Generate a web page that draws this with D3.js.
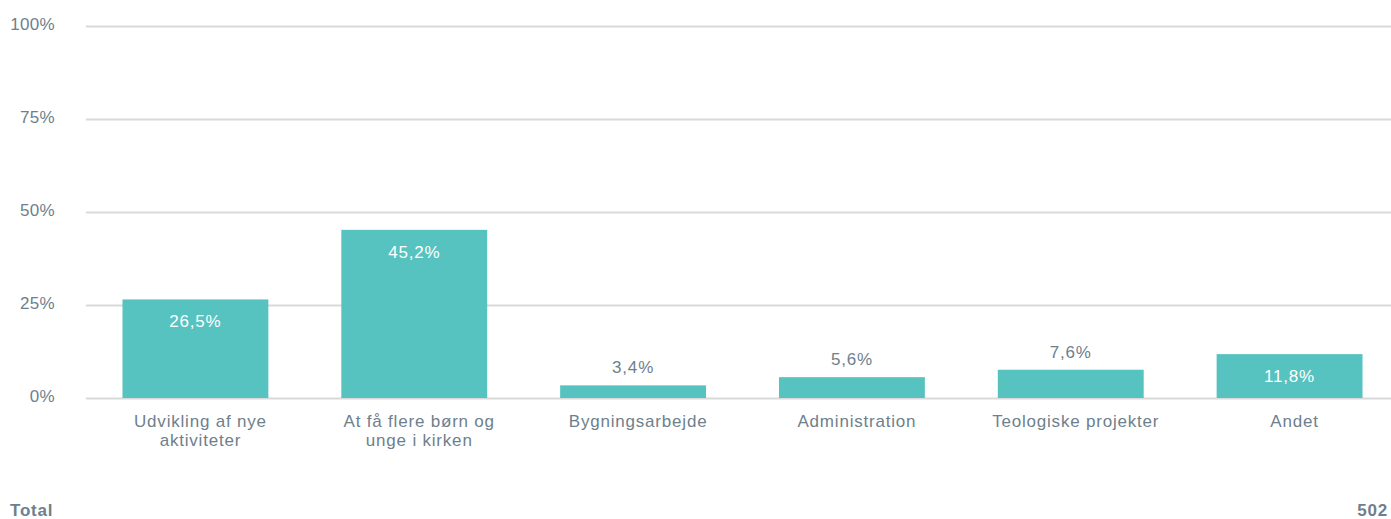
<!DOCTYPE html>
<html>
<head>
<meta charset="utf-8">
<script src="https://cdn.jsdelivr.net/npm/d3@7"></script>
<style>
    body { margin: 0; background: #fff; }
    svg { display: block; font-family: "Liberation Sans", Arial, sans-serif; }
</style>
</head>
<body>
<div id="chart"></div>
<script>
const categories = [
    ["Udvikling af nye", "aktiviteter"],
    ["At få flere børn og", "unge i kirken"],
    ["Bygningsarbejde"],
    ["Administration"],
    ["Teologiske projekter"],
    ["Andet"]
];
const values = [26.5, 45.2, 3.4, 5.6, 7.6, 11.8];
const yTicks = [0, 25, 50, 75, 100];
const totalLabel = "Total";
const totalN = "502";

const width = 1391, height = 519;
const textColor = "#6e808c";
const barColor = "#57c3c0";

const svg = d3.select("#chart").append("svg")
    .attr("width", width)
    .attr("height", height);

const x = d3.scaleBand()
    .domain(d3.range(categories.length))
    .range([86, 1399])
    .paddingInner(1 / 3)
    .paddingOuter(1 / 6);

const y = d3.scaleLinear()
    .domain([0, 100])
    .range([398, 26]);

// gridlines + y labels
const yAxis = svg.append("g")
    .attr("transform", "translate(86,0)")
    .call(d3.axisLeft(y).tickValues(yTicks).tickSize(-(width - 86)).tickFormat(d => d + "%"));
yAxis.select(".domain").remove();
yAxis.selectAll(".tick line").attr("stroke", "#d9d9d9").attr("stroke-width", 2);
yAxis.selectAll(".tick text")
    .attr("x", -31)
    .attr("dy", "0.2em")
    .attr("fill", textColor)
    .style("font-size", "17px")
    .style("letter-spacing", "0.3px")
    .style("font-family", "'Liberation Sans', Arial, sans-serif");

// bars
svg.append("g").selectAll("rect")
    .data(values)
    .join("rect")
    .attr("x", (d, i) => x(i))
    .attr("width", x.bandwidth())
    .attr("y", d => y(d))
    .attr("height", d => y(0) - y(d))
    .attr("fill", barColor);

// value labels
svg.append("g").selectAll("text")
    .data(values)
    .join("text")
    .attr("x", (d, i) => x(i) + x.bandwidth() / 2)
    .attr("y", d => d >= 10 ? y(d) + 28 : y(d) - 12)
    .attr("text-anchor", "middle")
    .attr("fill", d => d >= 10 ? "#ffffff" : textColor)
    .style("font-size", "17px")
    .style("letter-spacing", "0.8px")
    .text(d => d.toFixed(1).replace(".", ",") + "%");

// category labels (sit a little right of the bar centre, like the original)
const catText = svg.append("g").selectAll("text")
    .data(categories)
    .join("text")
    .attr("x", (d, i) => x(i) + x.bandwidth() / 2 + 5)
    .attr("y", 427)
    .attr("text-anchor", "middle")
    .attr("fill", textColor)
    .style("font-size", "17px")
    .style("letter-spacing", "0.8px");
catText.selectAll("tspan")
    .data(d => d)
    .join("tspan")
    .attr("x", function () { return d3.select(this.parentNode).attr("x"); })
    .attr("dy", (d, i) => i === 0 ? 0 : 19)
    .text(d => d);

// footer
svg.append("text")
    .attr("x", 10)
    .attr("y", 516)
    .attr("fill", textColor)
    .style("font-size", "17px")
    .style("letter-spacing", "0.8px")
    .style("font-weight", "bold")
    .text(totalLabel);
svg.append("text")
    .attr("x", 1388)
    .attr("y", 516)
    .attr("text-anchor", "end")
    .attr("fill", textColor)
    .style("font-size", "17px")
    .style("letter-spacing", "0.8px")
    .style("font-weight", "bold")
    .text(totalN);
</script>
</body>
</html>
